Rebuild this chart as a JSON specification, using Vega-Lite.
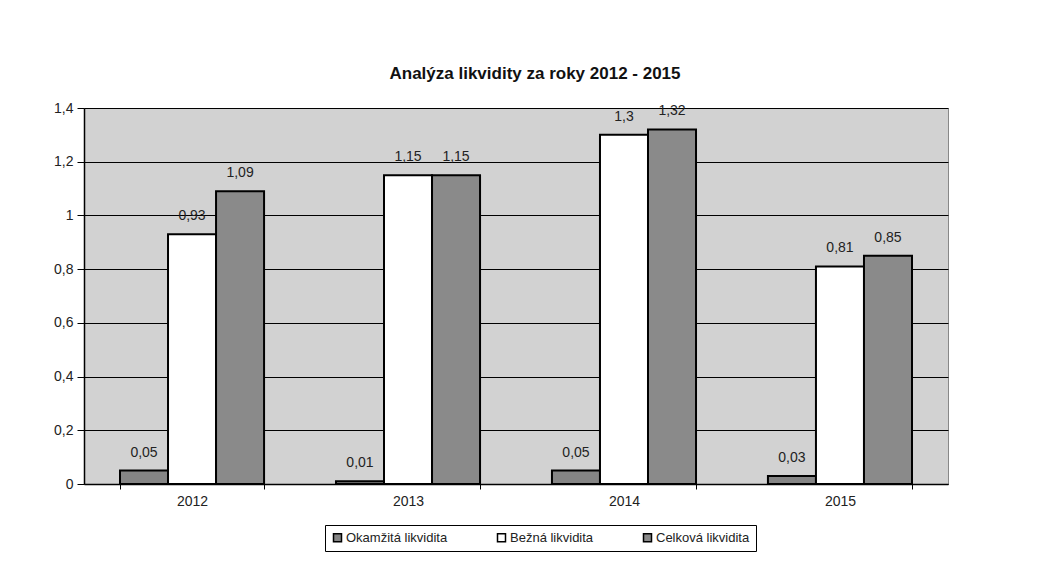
{
  "$schema": "https://vega.github.io/schema/vega-lite/v6.json",
  "autosize": {"type": "none"},
  "width": 864,
  "height": 376,
  "padding": {"left": 84, "top": 108, "right": 111, "bottom": 97},
  "background": "#ffffff",
  "title": {
    "text": "Analýza likvidity za roky 2012 - 2015",
    "fontSize": 17,
    "fontWeight": "bold",
    "font": "Liberation Sans",
    "color": "#111111",
    "anchor": "middle",
    "dx": 19,
    "offset": 18
  },
  "data": {
    "values": [
      {"rok": "2012", "ukazatel": "Okamžitá likvidita", "hodnota": 0.05},
      {"rok": "2012", "ukazatel": "Bežná likvidita", "hodnota": 0.93},
      {"rok": "2012", "ukazatel": "Celková likvidita", "hodnota": 1.09},
      {"rok": "2013", "ukazatel": "Okamžitá likvidita", "hodnota": 0.01},
      {"rok": "2013", "ukazatel": "Bežná likvidita", "hodnota": 1.15},
      {"rok": "2013", "ukazatel": "Celková likvidita", "hodnota": 1.15},
      {"rok": "2014", "ukazatel": "Okamžitá likvidita", "hodnota": 0.05},
      {"rok": "2014", "ukazatel": "Bežná likvidita", "hodnota": 1.3},
      {"rok": "2014", "ukazatel": "Celková likvidita", "hodnota": 1.32},
      {"rok": "2015", "ukazatel": "Okamžitá likvidita", "hodnota": 0.03},
      {"rok": "2015", "ukazatel": "Bežná likvidita", "hodnota": 0.81},
      {"rok": "2015", "ukazatel": "Celková likvidita", "hodnota": 0.85}
    ]
  },
  "encoding": {
    "x": {
      "field": "rok",
      "type": "nominal",
      "scale": {"paddingInner": 0.333, "paddingOuter": 0.1667},
      "axis": {
        "title": null,
        "labelAngle": 0,
        "labelFontSize": 14,
        "labelColor": "#222222",
        "labelPadding": 5,
        "tickBand": "extent",
        "tickSize": 5,
        "tickColor": "#000000",
        "domainColor": "#000000",
        "domainWidth": 1.5
      }
    },
    "xOffset": {
      "field": "ukazatel",
      "type": "nominal",
      "sort": ["Okamžitá likvidita", "Bežná likvidita", "Celková likvidita"],
      "scale": {"paddingInner": 0, "paddingOuter": 0}
    },
    "y": {
      "field": "hodnota",
      "type": "quantitative",
      "scale": {"domain": [0, 1.4], "nice": false},
      "axis": {
        "title": null,
        "values": [0, 0.2, 0.4, 0.6, 0.8, 1, 1.2, 1.4],
        "format": "~g",
        "labelFontSize": 14,
        "labelColor": "#222222",
        "labelPadding": 4,
        "tickSize": 7,
        "tickColor": "#000000",
        "domainColor": "#000000",
        "domainWidth": 1.5,
        "grid": true,
        "gridColor": "#000000",
        "gridWidth": 1.2,
        "gridOpacity": 1
      }
    }
  },
  "layer": [
    {
      "mark": {"type": "bar", "stroke": "#000000", "strokeWidth": 2},
      "encoding": {
        "color": {
          "field": "ukazatel",
          "type": "nominal",
          "scale": {
            "domain": ["Okamžitá likvidita", "Bežná likvidita", "Celková likvidita"],
            "range": ["#858585", "#ffffff", "#8a8a8a"]
          },
          "legend": {
            "title": null,
            "orient": "none",
            "legendX": 241,
            "legendY": 417,
            "direction": "horizontal",
            "columns": 3,
            "symbolType": "square",
            "symbolSize": 64,
            "symbolStrokeColor": "#000000",
            "symbolStrokeWidth": 1.5,
            "labelFontSize": 13,
            "labelColor": "#222222",
            "labelOffset": 2,
            "columnPadding": 46,
            "strokeColor": "#000000",
            "padding": 6,
            "offset": 0
          }
        }
      }
    },
    {
      "mark": {
        "type": "text",
        "baseline": "bottom",
        "dy": -11,
        "fontSize": 14,
        "color": "#222222"
      },
      "encoding": {
        "text": {"field": "hodnota", "type": "quantitative", "format": "~g"}
      }
    }
  ],
  "config": {
    "font": "Liberation Sans",
    "locale": {
      "number": {
        "decimal": ",",
        "thousands": " ",
        "grouping": [3],
        "currency": ["", " Kč"]
      }
    },
    "view": {"fill": "#d2d2d2", "stroke": "#888888", "strokeWidth": 1}
  }
}
